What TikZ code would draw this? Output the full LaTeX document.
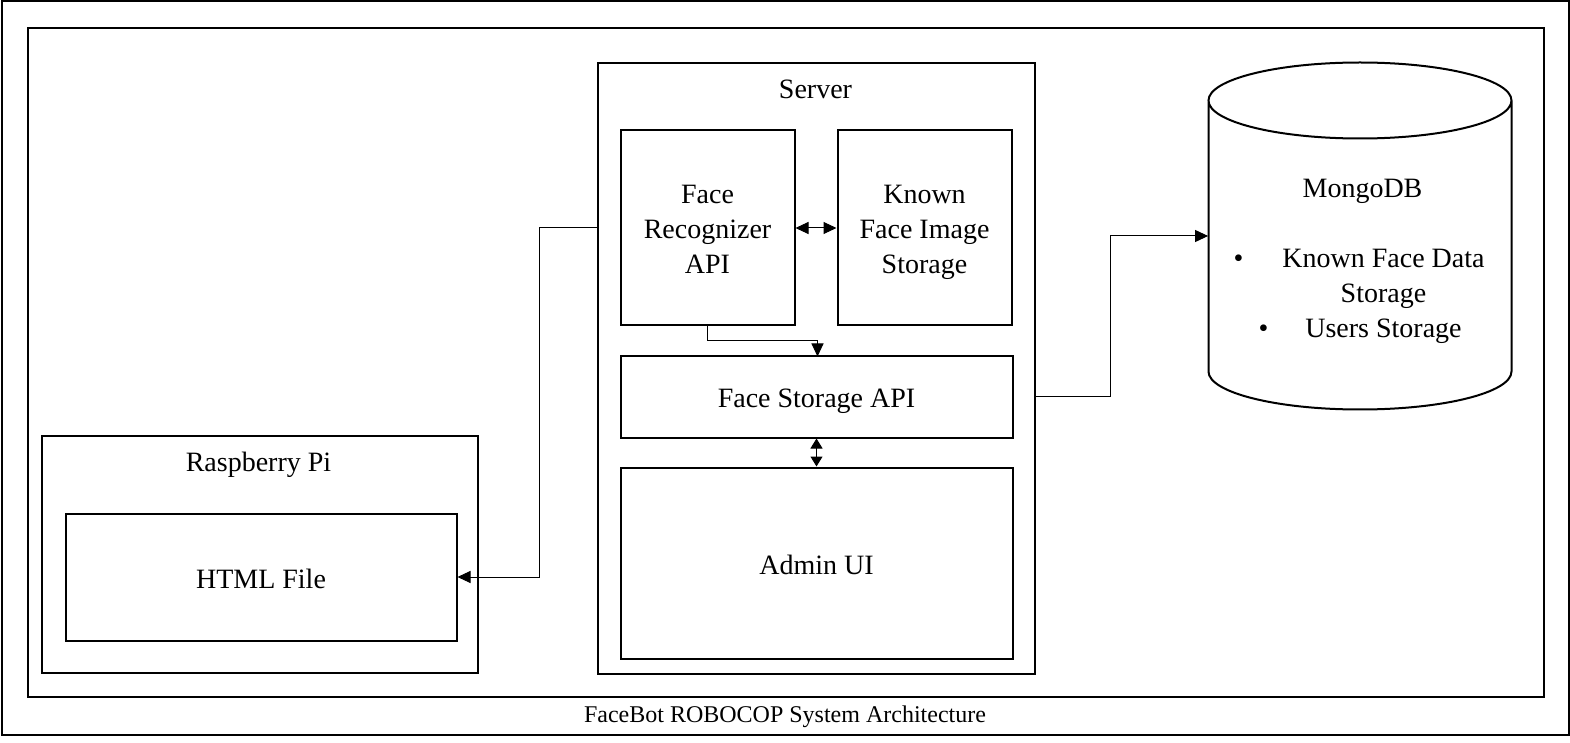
\documentclass[tikz,border=0pt]{standalone}
\usepackage{fontspec}
\setmainfont{Liberation Serif}
\usetikzlibrary{arrows.meta}
\begin{document}
\begin{tikzpicture}[x=0.5pt,y=-0.5pt,
  frame/.style={draw=black,line width=1pt},
  box/.style={draw=black,line width=1pt,inner sep=0pt},
  lbl/.style={inner sep=0pt,align=center,font=\fontsize{14}{17.5}\selectfont,yshift=-2pt},
  conn/.style={draw=black,line width=0.5pt},
  tip/.style={-{Triangle[length=6.5pt,width=6pt]}},
  dtip/.style={{Triangle[length=6.5pt,width=6pt]}-{Triangle[length=6.5pt,width=6pt]}},
  sdtip/.style={{Triangle[length=5pt,width=6pt]}-{Triangle[length=5pt,width=6pt]}}
]
\useasboundingbox (0,0) rectangle (1570,743);
% frames
\draw[frame] (1.5,1.5) rectangle (1568.5,734.5);
\draw[frame] (27.5,28.5) rectangle (1543.5,696.5);
\node[lbl,font=\fontsize{12}{14}\selectfont] (caption) at (785,713) {\strut FaceBot ROBOCOP System Architecture};

% Raspberry Pi
\node[box,minimum width=218pt,minimum height=118.5pt] (pi) at (259.5,554) {};
\node[lbl] (pilbl) at (258.5,461) {\strut Raspberry Pi};
\node[box,minimum width=195.5pt,minimum height=63.5pt] (html) at (261,577) {};
\node[lbl] (htmllbl) at (html.center) {\strut HTML File};

% Server
\node[box,minimum width=218.5pt,minimum height=305pt] (server) at (816,368.5) {};
\node[lbl] (serverlbl) at (815.5,88) {\strut Server};
\node[box,minimum width=87pt,minimum height=97.5pt] (fr) at (707.5,228) {};
\node[lbl] (frlbl) at (fr.center) {\strut Face\\\strut Recognizer\\\strut API};
\node[box,minimum width=87pt,minimum height=97.5pt] (kf) at (924.5,228) {};
\node[lbl] (kflbl) at (kf.center) {\strut Known\\\strut Face Image\\\strut Storage};
\node[box,minimum width=196pt,minimum height=40.5pt] (fs) at (816.5,397) {};
\node[lbl] (fslbl) at (fs.center) {\strut Face Storage API};
\node[box,minimum width=196pt,minimum height=95.5pt] (admin) at (816.5,563) {};
\node[lbl] (adminlbl) at (admin.center) {\strut Admin UI};

% MongoDB cylinder
\draw[frame] (1208.5,100.5) -- (1208.5,371.5) arc[start angle=180,end angle=0,x radius=151.5,y radius=38]
  -- (1511.5,100.5) arc[start angle=0,end angle=360,x radius=151.5,y radius=38];
\node[inner sep=0pt,minimum width=151.5pt,minimum height=135.5pt] (mongo) at (1360,236) {};
\node[lbl] (mongolbl) at (1362.5,187) {\strut MongoDB};
\node[lbl] (b1) at (1238.5,257) {\strut •};
\node[lbl] (t1) at (1383.5,274) {\strut Known Face Data\\\strut Storage};
\node[lbl] (b2) at (1263.5,327) {\strut •};
\node[lbl] (t2) at (1383.5,327) {\strut Users Storage};

% connectors
\draw[conn,tip] (server.west |- 0,228) -- (539.5,228) |- (html.east);
\draw[conn,dtip] (fr.east) -- (kf.east -| kf.west);
\draw[conn,tip] (fr.south) -- (707.5,341) -| (817.5,356.5);
\draw[conn,sdtip] (fs.south) -- (admin.north);
\draw[conn,tip] (server.east |- 0,397) -- (1110.5,397) |- (mongo.west |- 0,236);
\end{tikzpicture}
\end{document}
